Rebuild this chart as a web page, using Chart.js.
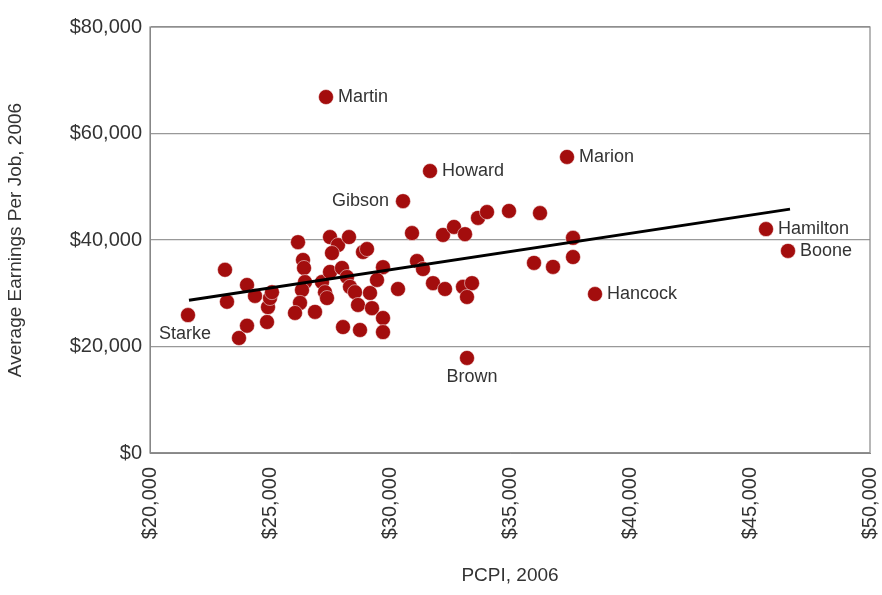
<!DOCTYPE html>
<html>
<head>
<meta charset="utf-8">
<script src="https://cdn.jsdelivr.net/npm/chart.js@4/dist/chart.umd.min.js"></script>
<style>
  html, body { margin: 0; padding: 0; background: #fff; }
  #wrap { width: 882px; height: 595px; }
</style>
</head>
<body>
<div id="wrap"><canvas id="chart" width="882" height="595"></canvas></div>
<script>
// PCPI (x) vs average earnings per job (y), 2006
const pcpi = [21583, 23125, 23208, 23708, 24042, 24042, 24375, 24875, 24917, 25000, 25083,
  26167, 26375, 26417, 26458, 26333, 26250, 26042, 26875, 27167, 27292, 27375, 27500, 27833,
  27583, 27500, 28000, 28208, 28333, 28542, 28292, 28875, 29042, 28667, 29167, 29250, 29708,
  29458, 29708, 29708, 28042, 28750, 30333, 30917, 31125, 31375, 31792, 32292, 32208, 30542,
  32667, 33125, 33667, 34042, 34958, 36250, 37625, 37625, 36000, 36792, 38542, 33042, 33417,
  33208, 33208, 27333, 31667, 37375, 45667, 46583];
const earnings = [25900, 34400, 28400, 21600, 23900, 31550, 29500, 24600, 27400, 29100, 30200,
  39600, 36250, 34750, 32100, 30600, 28200, 26300, 26500, 32100, 30200, 29100, 40550, 39050,
  37550, 34000, 34750, 33050, 31200, 30200, 40550, 37750, 38300, 27800, 30050, 27200, 34900,
  32500, 25350, 22700, 23650, 23100, 30800, 41300, 36050, 34550, 31900, 30800, 40950, 47300,
  42450, 41100, 44150, 45250, 45450, 45050, 40400, 36800, 35700, 34950, 29850, 31200, 31900,
  29300, 17850, 66850, 52950, 55600, 42050, 37950];
const countyNames = {0: 'Starke', 49: 'Gibson', 60: 'Hancock', 64: 'Brown', 65: 'Martin',
  66: 'Howard', 67: 'Marion', 68: 'Hamilton', 69: 'Boone'};
const trendX = [21625, 46667];
const trendY = [28700, 45800];

const FONT = '"Liberation Sans", Arial, sans-serif';

const points = pcpi.map((x, i) => ({ x: x, y: earnings[i] }));
const trend = trendX.map((x, i) => ({ x: x, y: trendY[i] }));

// labels next to the named counties
const labelPlugin = {
    id: 'countyLabels',
    afterDatasetsDraw(chart) {
        const c = chart.ctx;
        const meta = chart.getDatasetMeta(1);
        c.save();
        c.font = '18px ' + FONT;
        c.fillStyle = '#333';
        c.textBaseline = 'middle';
        Object.keys(countyNames).forEach(k => {
            const el = meta.data[k];
            const name = countyNames[k];
            let x = el.x, y = el.y;
            if (name === 'Gibson') { c.textAlign = 'right'; x -= 14; }
            else if (name === 'Brown') { c.textAlign = 'center'; x += 5; y += 19; }
            else if (name === 'Starke') { c.textAlign = 'center'; x -= 3; y += 19; }
            else { c.textAlign = 'left'; x += 12; }
            c.fillText(name, x, y);
        });
        c.restore();
    }
};

const frame = {
    id: 'frame',
    afterDraw(chart) {
        const a = chart.chartArea, c = chart.ctx;
        c.save();
        c.strokeStyle = '#888';
        c.lineWidth = 1.2;
        c.strokeRect(a.left, a.top, a.right - a.left, a.bottom - a.top);
        c.restore();
    }
};

new Chart(document.getElementById('chart'), {
    type: 'scatter',
    data: {
        datasets: [
            {
                type: 'line', data: trend, borderColor: '#000', borderWidth: 3,
                pointRadius: 0, fill: false, order: 0
            },
            {
                data: points, backgroundColor: '#a30d0d', borderColor: 'rgba(255,255,255,0.5)',
                borderWidth: 1, pointRadius: 7.5, order: 1
            }
        ]
    },
    options: {
        responsive: false,
        animation: false,
        layout: { padding: { top: 27, right: 12, bottom: 4, left: 0 } },
        plugins: { legend: { display: false }, tooltip: { enabled: false } },
        scales: {
            x: {
                type: 'linear', min: 20000, max: 50000,
                afterFit(s) { s.height = 138; s.paddingRight = 0; s.paddingLeft = 0; },
                ticks: {
                    stepSize: 5000, minRotation: 90, maxRotation: 90, color: '#333',
                    padding: 6,
                    font: { family: FONT, size: 20 },
                    callback: v => '$' + v.toLocaleString('en-US')
                },
                grid: { display: false, drawTicks: true },
                border: { color: '#888' },
                title: { display: true, text: 'PCPI, 2006', color: '#333', font: { family: FONT, size: 19 } }
            },
            y: {
                min: 0, max: 80000,
                afterFit(s) { s.width = 150; },
                ticks: {
                    stepSize: 20000, color: '#333', padding: 8,
                    font: { family: FONT, size: 20 },
                    callback: v => '$' + v.toLocaleString('en-US')
                },
                grid: { color: '#999', lineWidth: 1.2, drawTicks: false },
                border: { color: '#888' },
                title: { display: true, text: 'Average Earnings Per Job, 2006', color: '#333', font: { family: FONT, size: 19 } }
            }
        }
    },
    plugins: [labelPlugin, frame]
});
</script>
</body>
</html>
